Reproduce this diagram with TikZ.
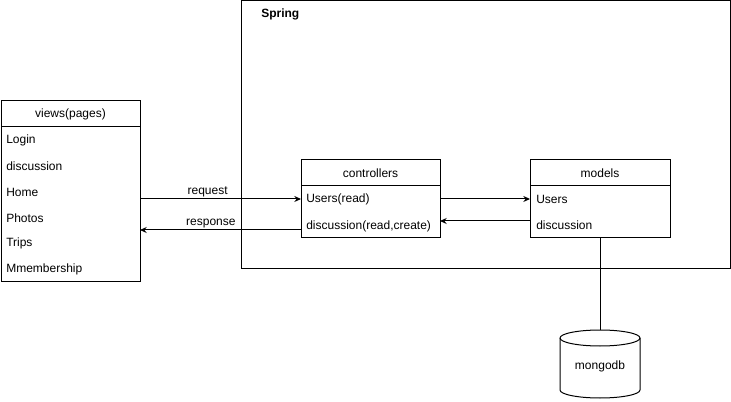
\documentclass[tikz,border=0pt]{standalone}
\usepackage{fontspec}
\setmainfont{Liberation Sans}
\usetikzlibrary{arrows.meta}
\begin{document}
\begin{tikzpicture}[x=0.75pt,y=-0.75pt,
  box/.style={draw,line width=0.75pt},
  txt/.style={font=\fontsize{9}{10}\selectfont,inner sep=0pt},
  item/.style={txt,anchor=west},
  conn/.style={line width=0.75pt,-{Stealth[length=5pt,width=4.5pt]}},
  lbl/.style={txt,anchor=south}]
\useasboundingbox (0,0) rectangle (731,402);
% Spring container
\draw[box] (241,1) rectangle (730,269);
\node[txt,anchor=west,font=\fontsize{9}{10}\selectfont\bfseries] (spring) at (261,14) {Spring};
% views
\draw[box] (1,101) rectangle (140,282);
\draw[box] (1,127) -- (140,127);
\node[txt] (viewsh) at (70.5,114) {views(pages)};
\node[item] (v1) at (6,140) {Login};
\node[item] (v2) at (6,166) {discussion};
\node[item] (v3) at (6,192) {Home};
\node[item] (v4) at (6,218) {Photos};
\node[item] (v5) at (6,243) {Trips};
\node[item] (v6) at (6,269) {Mmembership};
\coordinate (vr1) at (140,199);
\coordinate (vr2) at (140,230);
% controllers
\draw[box] (301,160) rectangle (440,238);
\draw[box] (301,186) -- (440,186);
\node[txt] (ch) at (370.5,173) {controllers};
\node[item] (c1) at (306,199) {Users(read)};
\node[item] (c2) at (306,226) {discussion(read,create)};
\coordinate (cl1) at (301,199);
\coordinate (cl2) at (301,230);
\coordinate (cr1) at (440,199);
\coordinate (cr2) at (440,221);
% models
\draw[box] (530,160) rectangle (670,238);
\draw[box] (530,186) -- (670,186);
\node[txt] (mh) at (600,173) {models};
\node[item] (m1) at (536,199) {Users};
\node[item] (m2) at (536,225) {discussion};
\coordinate (ml1) at (530,199);
\coordinate (ml2) at (530,221);
\coordinate (mb) at (600,238);
% connectors
\draw[conn] (vr1) -- node[lbl,above=1.5pt,pos=0.42] (req) {request} (cl1);
\draw[conn] (cl2) -- node[lbl,above=1.5pt,pos=0.56] (resp) {response} (vr2);
\draw[conn] (cr1) -- (ml1);
\draw[conn] (ml2) -- (cr2);
% mongodb cylinder
\coordinate (dbtop) at (600,330);
\draw[line width=0.75pt] (mb) -- (dbtop);
\draw[line width=0.75pt,fill=white] (560,338) -- (560,390) arc[start angle=180,end angle=0,x radius=40,y radius=8] -- (640,338) arc[start angle=0,end angle=-180,x radius=40,y radius=8] -- cycle;
\draw[line width=0.75pt] (560,338) arc[start angle=180,end angle=0,x radius=40,y radius=8];
\node[txt] (db) at (600,366) {mongodb};
\end{tikzpicture}
\end{document}
